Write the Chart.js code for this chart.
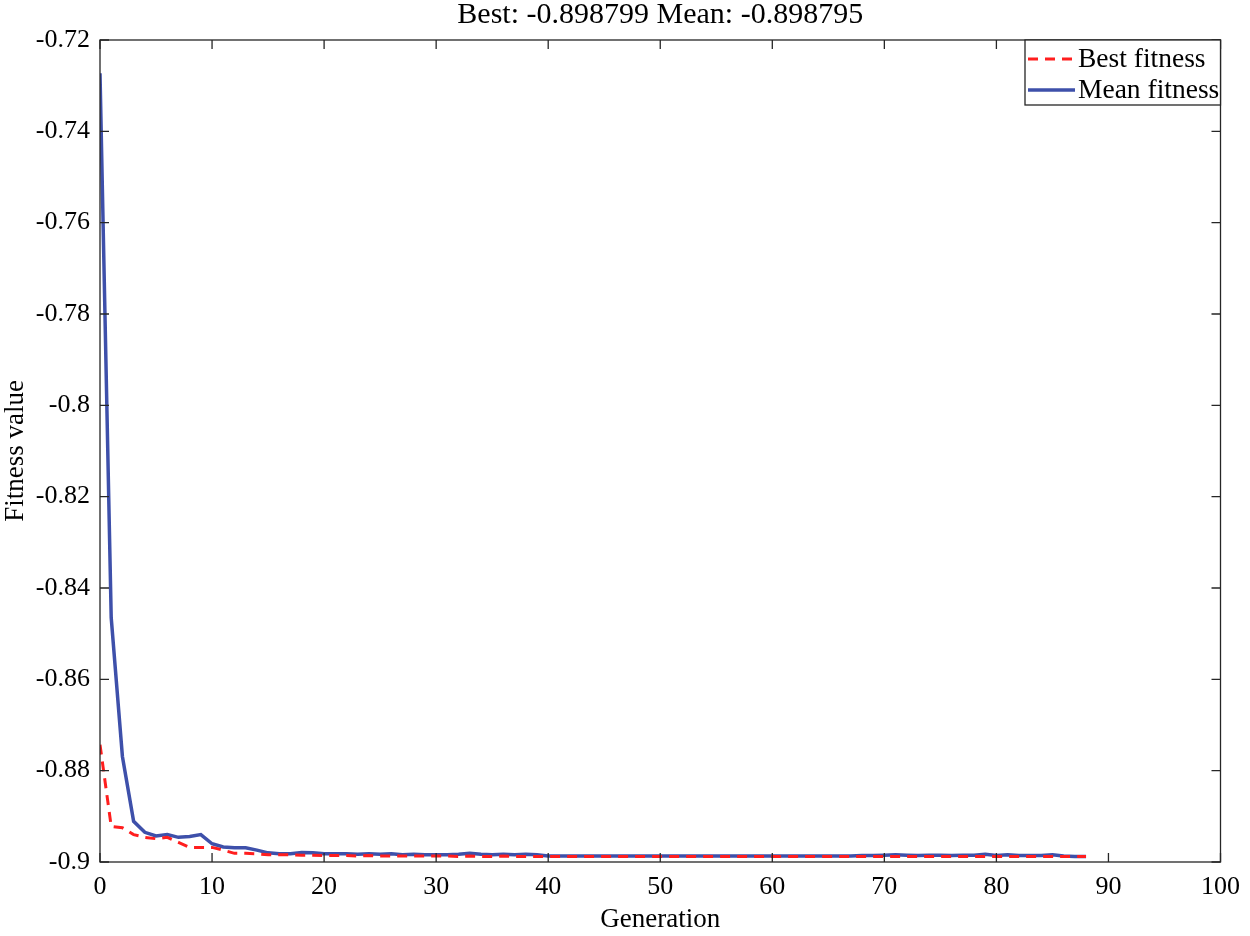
<!DOCTYPE html>
<html>
<head>
<meta charset="utf-8">
<script src="https://cdn.jsdelivr.net/npm/chart.js@4.4.0/dist/chart.umd.min.js"></script>
<style>
  html, body { margin: 0; padding: 0; background: #fff; }
  #wrap { width: 1250px; height: 936px; }
</style>
</head>
<body>
<div id="wrap"><canvas id="ga-chart"></canvas></div>
<script>
const generations = [];
for (let g = 0; g <= 88; g++) generations.push(g);

const bestFitness = [
    -0.8743, -0.8922, -0.8925, -0.8940, -0.8946, -0.8949, -0.8946, -0.8957, -0.8968, -0.8968,
    -0.8968, -0.8974, -0.8981, -0.8981, -0.8982, -0.8984, -0.8984, -0.8984, -0.8985, -0.8985,
    -0.8986, -0.8986, -0.8986, -0.8987, -0.8986, -0.8987, -0.8987, -0.8987, -0.8987, -0.8987,
    -0.8987, -0.8987, -0.8988, -0.8987, -0.8988, -0.8988, -0.8987, -0.8988, -0.8988, -0.8988,
    -0.8988, -0.8988, -0.8988, -0.8988, -0.8988, -0.8988, -0.8988, -0.8988, -0.8988, -0.8988,
    -0.8988, -0.8988, -0.8988, -0.8988, -0.8988, -0.8988, -0.8988, -0.8988, -0.8988, -0.8988,
    -0.8988, -0.8988, -0.8988, -0.8988, -0.8988, -0.8988, -0.8988, -0.8988, -0.8988, -0.8988,
    -0.8988, -0.8988, -0.8988, -0.8988, -0.8988, -0.8988, -0.8988, -0.8988, -0.8988, -0.8988,
    -0.8988, -0.8988, -0.8988, -0.8988, -0.8988, -0.8988, -0.8988, -0.8988, -0.8988
];

const meanFitness = [
    -0.7273, -0.8465, -0.8769, -0.8911, -0.8935, -0.8943, -0.8940, -0.8946, -0.8944, -0.8940,
    -0.8960, -0.8967, -0.8969, -0.8969, -0.8974, -0.8980, -0.8982, -0.8982, -0.8979, -0.8980,
    -0.8982, -0.8982, -0.8982, -0.8983, -0.8982, -0.8983, -0.8982, -0.8984, -0.8983, -0.8984,
    -0.8984, -0.8984, -0.8983, -0.8981, -0.8983, -0.8984, -0.8983, -0.8984, -0.8983, -0.8984,
    -0.8987, -0.8987, -0.8987, -0.8987, -0.8987, -0.8987, -0.8987, -0.8987, -0.8987, -0.8987,
    -0.8987, -0.8987, -0.8987, -0.8987, -0.8987, -0.8987, -0.8987, -0.8987, -0.8987, -0.8987,
    -0.8987, -0.8987, -0.8987, -0.8987, -0.8987, -0.8987, -0.8987, -0.8987, -0.8986, -0.8986,
    -0.8985, -0.8984, -0.8985, -0.8986, -0.8985, -0.8985, -0.8986, -0.8985, -0.8985, -0.8983,
    -0.8986, -0.8984, -0.8986, -0.8986, -0.8986, -0.8984, -0.8987, -0.8988, -0.8988
];

const seriesLabels = ['Best fitness', 'Mean fitness'];
const titleText = 'Best: -0.898799 Mean: -0.898795';

const serif = '"Liberation Serif", "Times New Roman", serif';
const axisColor = '#262626';
const redColor = 'rgb(255, 30, 30)';
const blueColor = 'rgb(62, 80, 170)';

function toPoints(values) {
    return values.map((v, i) => ({ x: generations[i], y: v }));
}

// matlab style box: inward ticks on all four sides, title, legend in the corner
const boxPlugin = {
    id: 'matlabBox',
    afterDraw(chart) {
        const c = chart.ctx, a = chart.chartArea;
        const xs = chart.scales.x, ys = chart.scales.y;
        const tl = 9;
        c.save();
        c.strokeStyle = axisColor;
        c.lineWidth = 1.3;
        c.strokeRect(a.left, a.top, a.right - a.left, a.bottom - a.top);
        c.beginPath();
        xs.ticks.forEach(t => {
            const px = xs.getPixelForValue(t.value);
            c.moveTo(px, a.bottom); c.lineTo(px, a.bottom - tl);
            c.moveTo(px, a.top); c.lineTo(px, a.top + tl);
        });
        ys.ticks.forEach(t => {
            const py = ys.getPixelForValue(t.value);
            c.moveTo(a.left, py); c.lineTo(a.left + tl, py);
            c.moveTo(a.right, py); c.lineTo(a.right - tl, py);
        });
        c.stroke();

        // title
        c.fillStyle = '#000';
        c.font = '30px ' + serif;
        c.textAlign = 'center';
        c.textBaseline = 'middle';
        c.fillText(titleText, (a.left + a.right) / 2, 15);

        // legend
        const bx = 1025, by = a.top, bw = a.right - bx, bh = 65;
        c.fillStyle = '#fff';
        c.fillRect(bx, by, bw, bh);
        c.strokeStyle = axisColor;
        c.lineWidth = 1.3;
        c.strokeRect(bx, by, bw, bh);
        c.font = '27.5px ' + serif;
        c.textAlign = 'left';
        const rows = [by + 19, by + 50];
        chart.data.datasets.forEach((ds, i) => {
            c.beginPath();
            c.strokeStyle = ds.borderColor;
            c.lineWidth = ds.borderWidth;
            c.setLineDash(ds.borderDash || []);
            c.moveTo(bx + 3, rows[i]);
            c.lineTo(bx + 50, rows[i]);
            c.stroke();
            c.setLineDash([]);
            c.fillStyle = '#000';
            c.fillText(ds.label, bx + 53, rows[i] + 1);
        });
        c.restore();
    }
};

document.addEventListener('DOMContentLoaded', () => {
    const ctx = document.getElementById('ga-chart');

    new Chart(ctx, {
        type: 'line',
        data: {
            datasets: [
                {
                    label: seriesLabels[0],
                    data: toPoints(bestFitness),
                    borderColor: redColor,
                    backgroundColor: redColor,
                    borderWidth: 3,
                    borderDash: [10, 7],
                    pointRadius: 0,
                    tension: 0
                },
                {
                    label: seriesLabels[1],
                    data: toPoints(meanFitness),
                    borderColor: blueColor,
                    backgroundColor: blueColor,
                    borderWidth: 3.5,
                    pointRadius: 0,
                    tension: 0
                }
            ]
        },
        options: {
            responsive: true,
            maintainAspectRatio: false,
            animation: false,
            layout: { padding: { top: 40, right: 26, left: 0, bottom: 0 } },
            plugins: {
                legend: { display: false },
                title: { display: false },
                tooltip: { enabled: false }
            },
            scales: {
                x: {
                    type: 'linear',
                    min: 0,
                    max: 100,
                    border: { display: false },
                    grid: { display: false, drawTicks: false },
                    ticks: {
                        stepSize: 10,
                        padding: 10,
                        color: '#000',
                        font: { family: serif, size: 26 },
                        maxRotation: 0
                    },
                    title: {
                        display: true,
                        text: 'Generation',
                        color: '#000',
                        font: { family: serif, size: 27 },
                        padding: { top: 0, bottom: 0 }
                    },
                    afterFit: s => { s.height = 74; }
                },
                y: {
                    min: -0.9,
                    max: -0.72,
                    border: { display: false },
                    grid: { display: false, drawTicks: false },
                    ticks: {
                        stepSize: 0.02,
                        padding: 10,
                        color: '#000',
                        font: { family: serif, size: 26 },
                        callback: v => String(parseFloat(v.toFixed(2)))
                    },
                    title: {
                        display: true,
                        text: 'Fitness value',
                        color: '#000',
                        font: { family: serif, size: 27 },
                        padding: { top: 0, bottom: 0 }
                    },
                    afterFit: s => { s.width = 100; }
                }
            }
        },
        plugins: [boxPlugin]
    });
});
</script>
</body>
</html>
